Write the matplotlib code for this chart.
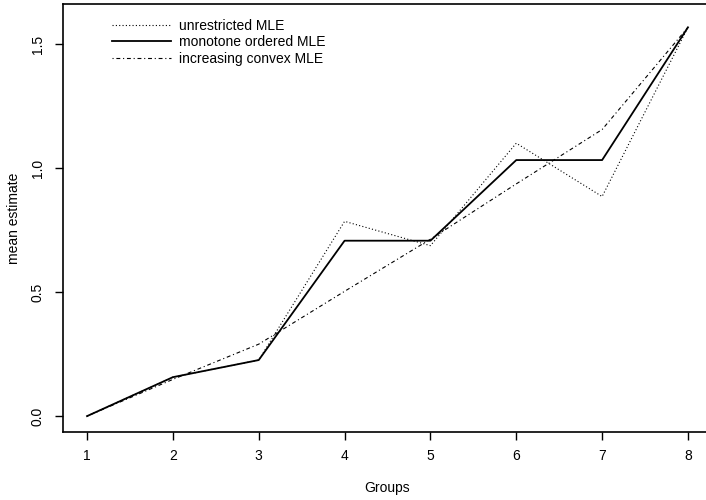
import matplotlib.pyplot as plt

plt.rcParams['font.family'] = ['Liberation Sans', 'DejaVu Sans']

# group means under the three fits
groups = [1, 2, 3, 4, 5, 6, 7, 8]
unrestricted = [0.0, 0.157, 0.226, 0.785, 0.687, 1.100, 0.885, 1.567]
monotone = [0.0, 0.157, 0.226, 0.707, 0.707, 1.032, 1.032, 1.567]
convex = [0.0, 0.148, 0.290, 0.503, 0.713, 0.936, 1.155, 1.567]

yticks = [0.0, 0.5, 1.0, 1.5]

fig = plt.figure(figsize=(7.06, 5.0), dpi=100)
# right edge of the box runs just past the figure
ax = fig.add_axes([63 / 706, 68 / 500, 649 / 706, 428 / 500])

ax.plot(groups, unrestricted, color='black', linestyle=(0, (1, 2)), linewidth=0.8,
        label='unrestricted MLE')
ax.plot(groups, monotone, color='black', linestyle='-', linewidth=1.3,
        label='monotone ordered MLE')
ax.plot(groups, convex, color='black', linestyle=(0, (1, 2.5, 3.5, 2.5)), linewidth=0.8,
        label='increasing convex MLE')

ax.set_xlim(0.72, 8.28)
ax.set_ylim(-0.064, 1.661)
ax.set_xticks(groups)
ax.set_xticklabels([str(g) for g in groups])
ax.set_yticks(yticks)
ax.set_yticklabels(['%.1f' % v for v in yticks], rotation=90, va='center')

ax.tick_params(axis='both', direction='out', length=6, width=1, labelsize=10,
               color='black', labelcolor='black')
ax.tick_params(axis='x', pad=6)
ax.tick_params(axis='y', pad=7)
for s in ax.spines.values():
    s.set_linewidth(1.2)

ax.set_xlabel('Groups', fontsize=10, labelpad=13)
ax.set_ylabel('mean estimate', fontsize=10, labelpad=7)

ax.legend(loc='upper left', bbox_to_anchor=(0.075, 0.966), frameon=False,
          fontsize=10, handlelength=4.3, handletextpad=0.55, labelspacing=0.2,
          borderpad=0.0, borderaxespad=0.0)

plt.savefig('out.png', dpi=100)
